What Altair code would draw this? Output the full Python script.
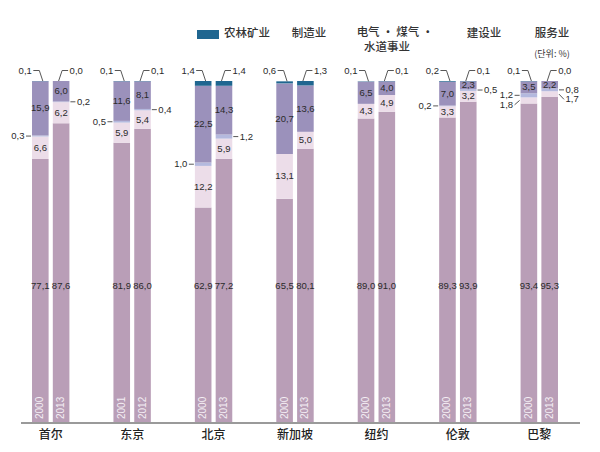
import altair as alt
import pandas as pd

# ---------------- data ----------------
cities = ["首尔", "东京", "北京", "新加坡", "纽约", "伦敦", "巴黎"]
years_a = ["2000", "2001", "2000", "2000", "2000", "2000", "2000"]
years_b = ["2013", "2012", "2013", "2013", "2013", "2013", "2013"]

agri_a = [0.1, 0.1, 1.4, 0.6, 0.1, 0.2, 0.1]
agri_b = [0.0, 0.1, 1.4, 1.3, 0.1, 0.1, 0.0]
mfg_a = [15.9, 11.6, 22.5, 20.7, 6.5, 7.0, 3.5]
mfg_b = [6.0, 8.1, 14.3, 13.6, 4.0, 2.3, 2.2]
util_a = [0.3, 0.5, 1.0, None, None, 0.2, 1.2]
util_b = [0.2, 0.4, 1.2, None, None, 0.5, 0.8]
const_a = [6.6, 5.9, 12.2, 13.1, 4.3, 3.3, 1.8]
const_b = [6.2, 5.4, 5.9, 5.0, 4.9, 3.2, 1.7]
serv_a = [77.1, 81.9, 62.9, 65.5, 89.0, 89.3, 93.4]
serv_b = [87.6, 86.0, 77.2, 80.1, 91.0, 93.9, 95.3]

sectors = ["农林矿业", "制造业", "电气·煤气·水道事业", "建设业", "服务业"]
sector_colors = ["#1f6690", "#9b91bb", "#b4b9de", "#ecdde9", "#b99eb7"]

legend_labels = ["农林矿业", "制造业", "电气 · 煤气 ·", "水道事业", "建设业", "服务业"]
unit_label = "(단위: %)"

# ---------------- layout ----------------
W, H = 570, 341
XU = 7 / W          # x data units per pixel
YU = 100 / H        # y data units per pixel
HALF = 8.3 * XU
OFF = 10.4 * XU
SERV_LABEL_Y = 40   # services values are printed at a common height
NUM_FONT = "Liberation Sans Narrow, Arial Narrow, Liberation Sans, sans-serif"
NUM_SIZE = 9.5
CJK_FONT = "Noto Sans CJK SC"


def fmt(v):
    return f"{v:.1f}".replace(".", ",")


bars, inside, labels, lines, years = [], [], [], [], []
lid = 0
for i, city in enumerate(cities):
    pairs = [
        (-1, years_a[i], agri_a[i], mfg_a[i], util_a[i], const_a[i], serv_a[i]),
        (1, years_b[i], agri_b[i], mfg_b[i], util_b[i], const_b[i], serv_b[i]),
    ]
    for s, yr, agri, mfg, util, const, serv in pairs:
        xc = i + s * OFF
        seq = [("服务业", serv), ("建设业", const), ("电气·煤气·水道事业", util),
               ("制造业", mfg), ("农林矿业", agri)]
        base = 0.0
        side = []
        for name, v in seq:
            if v is None:
                continue
            y0, y1 = base, base + v
            base = y1
            bars.append(dict(sector=name, xl=xc - HALF, xr=xc + HALF, y0=y0, y1=y1))
            mid = (y0 + y1) / 2
            if name == "农林矿业":
                ty = 100 + 10.5 * YU
                pts = [(xc - s * 2.5 * XU, y1), (xc + s * 1 * XU, ty), (xc + s * 7 * XU, ty)]
                for k, (px, py) in enumerate(pts):
                    lines.append(dict(lid=lid, o=k, x=px, y=py))
                lid += 1
                labels.append(dict(x=xc + s * 8.5 * XU, y=ty, t=fmt(v), side=s))
            elif name == "服务业":
                inside.append(dict(x=xc, y=SERV_LABEL_Y, t=fmt(v)))
            elif name == "电气·煤气·水道事业" or v < 2:
                side.append((mid, v))
            else:
                inside.append(dict(x=xc, y=mid, t=fmt(v)))
        side.sort(key=lambda t: -t[0])
        prev = None
        for mid, v in side:
            ly = mid if prev is None else min(mid, prev - 9.5 * YU)
            prev = ly
            edge = xc + s * HALF
            pts = [(edge + s * 1 * XU, mid), (edge + s * 6 * XU, ly)]
            for k, (px, py) in enumerate(pts):
                lines.append(dict(lid=lid, o=k, x=px, y=py))
            lid += 1
            labels.append(dict(x=edge + s * 7.5 * XU, y=ly, t=fmt(v), side=s))
        years.append(dict(x=xc, t=yr))

bars_df = pd.DataFrame(bars)
inside_df = pd.DataFrame(inside)
labels_df = pd.DataFrame(labels)
lines_df = pd.DataFrame(lines)
years_df = pd.DataFrame(years)
city_df = pd.DataFrame({"x": list(range(len(cities))), "t": cities})

xscale = alt.Scale(domain=[-0.5, 6.5], nice=False, zero=False)
yscale = alt.Scale(domain=[0, 100], nice=False, zero=False)

X = lambda f: alt.X(f, scale=xscale, axis=None)
Y = lambda f: alt.Y(f, scale=yscale, axis=None)

bar_layer = alt.Chart(bars_df).mark_bar(stroke=None).encode(
    x=X("xl:Q"), x2="xr:Q", y=Y("y0:Q"), y2="y1:Q",
    color=alt.Color("sector:N", scale=alt.Scale(domain=sectors, range=sector_colors), legend=None),
)

txt = dict(font=NUM_FONT, fontSize=NUM_SIZE, color="#2a2a2a", baseline="middle")

inside_layer = alt.Chart(inside_df).mark_text(align="center", **txt).encode(
    x=X("x:Q"), y=Y("y:Q"), text="t:N",
)
left_layer = alt.Chart(labels_df).transform_filter("datum.side < 0").mark_text(
    align="right", **txt
).encode(x=X("x:Q"), y=Y("y:Q"), text="t:N")
right_layer = alt.Chart(labels_df).transform_filter("datum.side > 0").mark_text(
    align="left", **txt
).encode(x=X("x:Q"), y=Y("y:Q"), text="t:N")

line_layer = alt.Chart(lines_df).mark_line(color="#444", strokeWidth=0.9).encode(
    x=X("x:Q"), y=Y("y:Q"), detail="lid:N", order="o:Q",
)

year_layer = alt.Chart(years_df).mark_text(
    font=NUM_FONT, fontSize=10, color="#f4eef4", angle=270, align="left",
    baseline="middle", dx=3
).encode(x=X("x:Q"), y=alt.datum(0), text="t:N")

# baseline and category labels
baseline_rule = alt.Chart(pd.DataFrame({"k": [0]})).mark_rule(
    color="#9a9a9a", strokeWidth=2
).encode(x=alt.value(11), x2=alt.value(W), y=alt.value(H + 1))

city_layer = alt.Chart(city_df).mark_text(
    font=CJK_FONT, fontSize=12, color="#222", fontWeight=500, baseline="middle"
).encode(x=X("x:Q"), y=alt.value(H + 13), text="t:N")

# legend (custom, as in the original graphic)
legend_pos = [(214, -47, "left"), (299, -47, "center"), (385, -48, "center"),
              (377, -33.5, "center"), (474, -47, "center"), (542, -47, "center")]
legend_layers = []
for lab, (lx, ly, al) in zip(legend_labels, legend_pos):
    legend_layers.append(
        alt.Chart(pd.DataFrame({"t": [lab]})).mark_text(
            font=CJK_FONT, fontSize=11.5, color="#333", align=al, baseline="middle",
            fontWeight=500
        ).encode(x=alt.value(lx), y=alt.value(ly), text="t:N")
    )
legend_layers.append(
    alt.Chart(pd.DataFrame({"t": [unit_label]})).mark_text(
        font=CJK_FONT, fontSize=9, color="#333", align="center", baseline="middle"
    ).encode(x=alt.value(542), y=alt.value(-27), text="t:N")
)
swatch = alt.Chart(pd.DataFrame({"s": [sectors[0]]})).mark_rect(color=sector_colors[0]).encode(
    x=alt.value(187), x2=alt.value(209), y=alt.value(-51), y2=alt.value(-42)
)

chart = alt.layer(
    bar_layer, inside_layer, left_layer, right_layer, line_layer, year_layer,
    baseline_rule, city_layer, swatch, *legend_layers
).properties(
    width=W, height=H,
    autosize=alt.AutoSizeParams(type="none"),
    padding={"left": 2, "top": 73, "right": 12, "bottom": 22},
).configure(background="white").configure_view(stroke=None)

chart.save("out.html", embed_options={"renderer": "svg", "actions": False})
